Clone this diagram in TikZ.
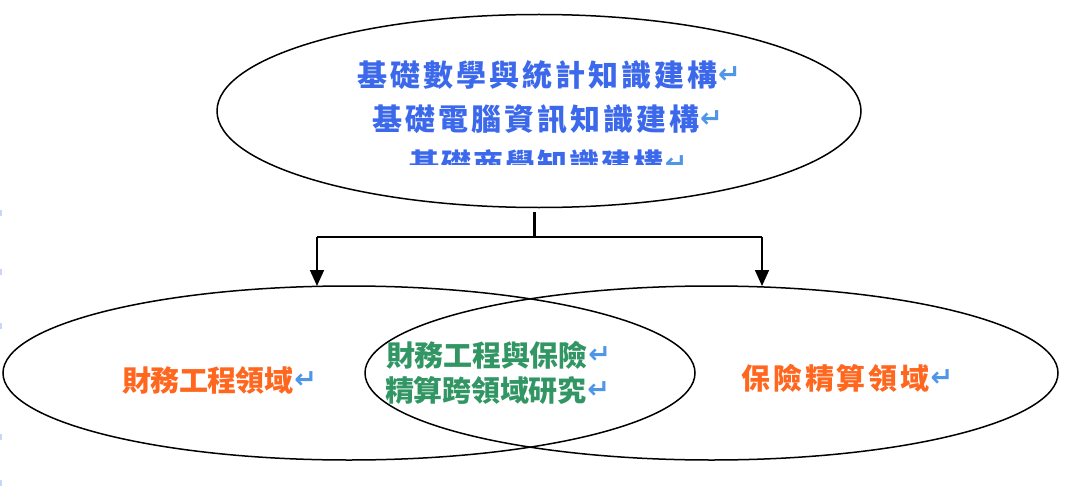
\documentclass[tikz,border=0pt]{standalone}
\usepackage{fontspec}
\newfontfamily\cjk{Noto Sans CJK TC}
\newfontfamily\symfont{DejaVu Sans}
\usetikzlibrary{shapes.geometric,arrows.meta}
\definecolor{tblue}{RGB}{60,105,235}
\definecolor{torange}{RGB}{255,102,30}
\definecolor{tgreen}{RGB}{50,150,100}
\definecolor{retblue}{RGB}{80,150,230}
\definecolor{edgeblue}{RGB}{200,215,245}
\newcommand{\retmark}{\hspace{1pt}\raisebox{3pt}{\symfont\bfseries\fontsize{27}{27}\selectfont\color{retblue}↵}}
\tikzset{
  oval/.style={draw=black, line width=1.5pt, ellipse, inner sep=0pt},
  txt/.style={inner sep=0pt, anchor=west, font=\cjk\bfseries\fontsize{29}{29}\selectfont},
  toptxt/.style={txt, font=\cjk\bfseries\fontsize{30}{30}\selectfont},
  conn/.style={line width=1.7pt, draw=black},
  arr/.style={conn, -{Triangle[width=14pt,length=16pt]}},
  margintick/.style={fill=edgeblue, draw=none}
}
\begin{document}
\begin{tikzpicture}[x=1pt,y=-1pt]
\useasboundingbox (0,0) rectangle (1070,500);
% ellipses
\node[oval, minimum width=644pt, minimum height=193pt] (top) at (539,111) {};
\node[oval, minimum width=692pt, minimum height=174pt] (left) at (349,373) {};
\node[oval, minimum width=693pt, minimum height=174pt] (right) at (711.5,373) {};
% top texts
\node[toptxt, text=tblue] (t1) at (357,75) {\addfontfeature{LetterSpace=10}基礎數學與統計知識建構\retmark};
\node[toptxt, text=tblue] (t2) at (372,119) {\addfontfeature{LetterSpace=10}基礎電腦資訊知識建構\retmark};
\begin{scope}
\clip (300,135) rectangle (800,164);
\node[toptxt, text=tblue] (t3) at (409,164) {\addfontfeature{LetterSpace=7}基礎商學知識建構\retmark};
\end{scope}
% bottom texts
\node[txt, text=torange] (lt) at (122,380) {\addfontfeature{LetterSpace=-2}財務工程領域\retmark};
\node[txt, text=tgreen] (m1) at (386,355) {\addfontfeature{LetterSpace=-1}財務工程與保險\retmark};
\node[txt, text=tgreen] (m2) at (385,390) {\addfontfeature{LetterSpace=-1}精算跨領域研究\retmark};
\node[txt, text=torange] (rt) at (741,378) {\addfontfeature{LetterSpace=10}保險精算領域\retmark};
% connectors
\coordinate (s) at (534,212);
\coordinate (j) at (534,237);
\coordinate (jl) at (317,237);
\coordinate (jr) at (762,237);
\coordinate (el) at (317,286);
\coordinate (er) at (762,286);
\draw[line width=3pt] (s) -- (j);
\draw[conn] (jl) -- (jr);
\draw[arr] (jl) -- (el);
\draw[arr] (jr) -- (er);
% faint margin marks
\foreach \yy in {213,272,326,437,483} \fill[margintick] (0,\yy-3) rectangle (2,\yy+3);
\end{tikzpicture}
\end{document}
